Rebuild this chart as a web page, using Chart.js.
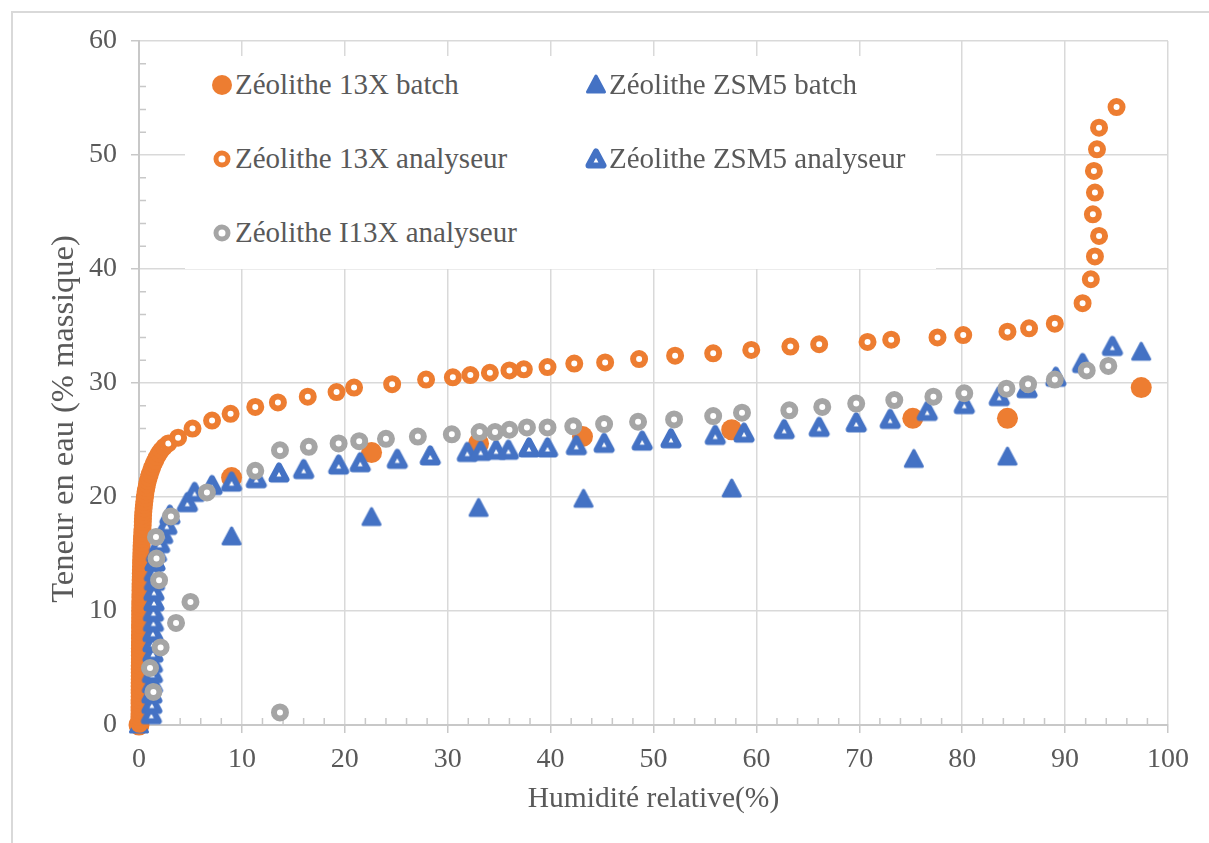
<!DOCTYPE html>
<html>
<head>
<meta charset="utf-8">
<script src="https://cdn.jsdelivr.net/npm/chart.js@4.4.0/dist/chart.umd.min.js"></script>
<style>
  body { margin: 0; background: #fff; overflow: hidden; }
  #wrap { position: absolute; left: 0; top: 0; width: 1209px; height: 843px; }
  #frame { position: absolute; left: 11px; top: 11px; width: 1230px; height: 860px;
           border: 2px solid #d9d9d9; box-sizing: border-box; }
  #legend { position: absolute; left: 185px; top: 56px; width: 751px; height: 213px; background: #fff; }
  .item { position: absolute; font-family: 'Liberation Serif', 'Times New Roman', serif;
          font-size: 29px; color: #595959; white-space: nowrap; line-height: 34px; height: 34px; }
  .mk { position: absolute; }
  #ytitle { position: absolute; left: 62px; top: 419px; width: 500px; margin-left: -250px; height: 38px; margin-top: -19px;
            transform: rotate(-90deg); text-align: center; line-height: 38px; white-space: nowrap;
            font-family: 'Liberation Serif', 'Times New Roman', serif; font-size: 32.5px; color: #595959; }
</style>
</head>
<body>
<div id="frame"></div>
<div id="wrap"><canvas id="chart"></canvas></div>
<div id="legend"></div>
<div id="ytitle">Teneur en eau (% massique)</div>
<script>
// Zéolithe 13X batch
const batch13X_x = [0, 9.0, 22.6, 33.0, 43.1, 57.6, 75.2, 84.4, 97.4];
const batch13X_y = [0, 21.7, 23.9, 24.7, 25.3, 25.9, 26.9, 26.9, 29.6];

// Zéolithe ZSM5 batch
const batchZSM5_x = [0, 9.0, 22.6, 33.0, 43.2, 57.6, 75.3, 84.4, 97.4];
const batchZSM5_y = [0, 16.5, 18.2, 19.0, 19.8, 20.7, 23.3, 23.5, 32.7];

// Zéolithe 13X analyseur (dense start near x = 0, then the isotherm)
const an13X_x = [
  0.04, 0.04, 0.04, 0.05, 0.05, 0.05, 0.05, 0.05, 0.06, 0.06, 0.06, 0.06, 0.06, 0.07, 0.07, 0.07, 0.07, 0.07, 0.08, 0.08,
  0.08, 0.08, 0.08, 0.09, 0.09, 0.09, 0.09, 0.10, 0.10, 0.10, 0.11, 0.11, 0.11, 0.12, 0.12, 0.12, 0.13, 0.13, 0.14, 0.14,
  0.15, 0.15, 0.16, 0.17, 0.17, 0.18, 0.19, 0.20, 0.21, 0.22, 0.23, 0.24, 0.25, 0.27, 0.28, 0.30, 0.32, 0.34, 0.36, 0.37,
  0.38, 0.40, 0.42, 0.45, 0.48, 0.52, 0.56, 0.60, 0.65, 0.71, 0.78, 0.86, 0.95, 1.05, 1.16, 1.28, 1.42, 1.57, 1.74, 1.93,
  2.15, 2.45, 2.85,
  3.8, 5.2, 7.1, 8.9, 11.3, 13.5, 16.4, 19.2, 20.9, 24.6, 27.9, 30.5, 32.2, 34.1, 36.0, 37.4, 39.7,
  42.3, 45.3, 48.6, 52.1, 55.8, 59.5, 63.3, 66.1, 70.8, 73.1, 77.6, 80.1, 84.4, 86.5, 89.0,
  91.7, 92.5, 92.9, 93.3, 92.7, 92.9, 92.8, 93.1, 93.3, 95.0];
const an13X_y = [
  0.1, 0.4, 0.7, 1.0, 1.3, 1.6, 1.9, 2.2, 2.5, 2.8, 3.1, 3.4, 3.7, 4.0, 4.3, 4.6, 4.9, 5.2, 5.5, 5.8,
  6.1, 6.4, 6.7, 7.0, 7.3, 7.6, 7.9, 8.2, 8.5, 8.8, 9.1, 9.4, 9.7, 10.0, 10.3, 10.6, 10.9, 11.2, 11.5, 11.8,
  12.1, 12.4, 12.7, 13.0, 13.3, 13.6, 13.9, 14.2, 14.5, 14.8, 15.1, 15.4, 15.7, 16.0, 16.3, 16.6, 16.9, 17.2, 17.5, 17.8,
  18.1, 18.4, 18.7, 19.0, 19.3, 19.6, 19.9, 20.2, 20.5, 20.8, 21.1, 21.4, 21.7, 22.0, 22.3, 22.6, 22.9, 23.2, 23.5, 23.8,
  24.1, 24.4, 24.7,
  25.2, 26.0, 26.7, 27.3, 27.9, 28.3, 28.8, 29.2, 29.6, 29.9, 30.3, 30.5, 30.7, 30.9, 31.1, 31.2, 31.4,
  31.7, 31.8, 32.1, 32.4, 32.6, 32.9, 33.2, 33.4, 33.6, 33.8, 34.0, 34.2, 34.5, 34.8, 35.2,
  37.0, 39.1, 41.1, 42.9, 44.8, 46.7, 48.6, 50.5, 52.4, 54.2];

// Zéolithe ZSM5 analyseur
const anZSM5_x = [1.2, 1.25, 1.25, 1.3, 1.3, 1.3, 1.35, 1.35, 1.35, 1.4, 1.4, 1.45, 1.45, 1.5, 1.5,
  1.55, 1.7, 2.0, 2.3, 2.7, 3.0, 4.7, 5.4, 7.1, 9.0, 11.4, 13.6, 16.0, 19.4, 21.5, 25.1, 28.3,
  31.9, 33.2, 34.7, 35.9, 37.9, 39.7, 42.5, 45.2, 48.9, 51.7, 56.0, 58.8, 62.7, 66.1, 69.7,
  73.0, 76.6, 80.2, 83.6, 86.3, 89.1, 91.7, 94.6];
const anZSM5_y = [0.9, 1.8, 2.7, 3.6, 4.5, 5.4, 6.3, 7.2, 8.1, 9.0, 9.9, 10.8, 11.7, 12.6, 13.4,
  14.3, 15.1, 15.9, 16.7, 17.5, 18.4, 19.5, 20.4, 21.0, 21.3, 21.6, 22.1, 22.4, 22.8, 23.0, 23.3, 23.6,
  23.9, 24.0, 24.1, 24.1, 24.3, 24.3, 24.5, 24.7, 24.9, 25.1, 25.4, 25.6, 25.9, 26.1, 26.5,
  26.8, 27.5, 28.1, 28.8, 29.5, 30.5, 31.7, 33.2];

// Zéolithe I13X analyseur
const anI13X_x = [13.7, 1.4, 1.07, 2.1, 3.6, 5.0, 1.95, 1.7, 1.65, 3.1, 6.6, 11.3, 13.7, 16.5, 19.4,
  21.4, 24.0, 27.1, 30.4, 33.1, 34.6, 36.0, 37.7, 39.7, 42.2, 45.2, 48.5, 52.0, 55.8, 58.6, 63.2,
  66.4, 69.7, 73.4, 77.2, 80.2, 84.3, 86.4, 89.0, 92.1, 94.2];
const anI13X_y = [1.1, 2.9, 5.0, 6.8, 8.95, 10.8, 12.7, 14.6, 16.5, 18.3, 20.4, 22.3, 24.1, 24.4, 24.7,
  24.9, 25.1, 25.3, 25.5, 25.7, 25.7, 25.9, 26.1, 26.1, 26.2, 26.4, 26.6, 26.8, 27.1, 27.4, 27.6,
  27.9, 28.2, 28.5, 28.8, 29.1, 29.5, 29.9, 30.3, 31.1, 31.5];

const xTicks = [0, 10, 20, 30, 40, 50, 60, 70, 80, 90, 100];
const yTicks = [0, 10, 20, 30, 40, 50, 60];

const ORANGE = '#ed7d31', BLUE = '#4472c4', GRAY = '#a5a5a5', TEXT = '#595959';
const FONT = "'Liberation Serif', 'Times New Roman', serif";

function pts(xs, ys) { return xs.map((x, i) => ({ x: x, y: ys[i] })); }

function triangleMarker(color, hollow) {
  const c = document.createElement('canvas');
  c.width = 28; c.height = 28;
  const g = c.getContext('2d');
  g.lineJoin = 'round';
  g.beginPath();
  if (hollow) { g.moveTo(14, 6.5); g.lineTo(21.5, 20.5); g.lineTo(6.5, 20.5); }
  else { g.moveTo(14, 5); g.lineTo(22.5, 21); g.lineTo(5.5, 21); }
  g.closePath();
  g.fillStyle = hollow ? '#fff' : color;
  g.fill();
  g.strokeStyle = color;
  g.lineWidth = hollow ? 6 : 3;
  g.stroke();
  return c;
}

function circleMarker(color, hollow, r) {
  const c = document.createElement('canvas');
  c.width = 26; c.height = 26;
  const g = c.getContext('2d');
  g.beginPath();
  if (hollow) {
    g.arc(13, 13, r - 2.5, 0, Math.PI * 2);
    g.fillStyle = '#fff'; g.fill();
    g.strokeStyle = color; g.lineWidth = 5; g.stroke();
  } else {
    g.arc(13, 13, r, 0, Math.PI * 2);
    g.fillStyle = color; g.fill();
  }
  return c;
}

// legend (white box over the grid, two columns)
const legendItems = [
  { text: 'Zéolithe 13X batch', mk: circleMarker(ORANGE, false, 10), left: 0, top: 0 },
  { text: 'Zéolithe ZSM5 batch', mk: triangleMarker(BLUE, false), left: 374, top: 0 },
  { text: 'Zéolithe 13X analyseur', mk: circleMarker(ORANGE, true, 8.5), left: 0, top: 74 },
  { text: 'Zéolithe ZSM5 analyseur', mk: triangleMarker(BLUE, true), left: 374, top: 74 },
  { text: 'Zéolithe I13X analyseur', mk: circleMarker(GRAY, true, 8.5), left: 0, top: 148 }
];
const legendBox = document.getElementById('legend');
legendItems.forEach(it => {
  it.mk.className = 'mk';
  it.mk.style.left = (37 - it.mk.width / 2 + it.left) + 'px';
  it.mk.style.top = (29 - it.mk.height / 2 + it.top) + 'px';
  legendBox.appendChild(it.mk);
  const s = document.createElement('div');
  s.className = 'item';
  s.textContent = it.text;
  s.style.left = (50 + it.left) + 'px';
  s.style.top = (11 + it.top) + 'px';
  legendBox.appendChild(s);
});

const minorTicks = {
  id: 'minorTicks',
  beforeDatasetsDraw(chart) {
    const { ctx, scales: { x, y } } = chart;
    ctx.save();
    ctx.strokeStyle = '#c8c8c8';
    ctx.lineWidth = 1.5;
    ctx.beginPath();
    for (let v = 2; v < 100; v += 2) {
      if (v % 10 === 0) continue;
      const px = x.getPixelForValue(v);
      ctx.moveTo(px, y.bottom); ctx.lineTo(px, y.bottom - 7);
    }
    for (let v = 2; v < 60; v += 2) {
      if (v % 10 === 0) continue;
      const py = y.getPixelForValue(v);
      ctx.moveTo(x.left, py); ctx.lineTo(x.left + 7, py);
    }
    ctx.stroke();
    ctx.restore();
  }
};

const ctx = document.getElementById('chart');

new Chart(ctx, {
  type: 'scatter',
  data: {
    datasets: [{
      label: 'Zéolithe 13X batch',
      data: pts(batch13X_x, batch13X_y),
      pointStyle: 'circle',
      pointRadius: 10.5,
      pointBorderWidth: 0,
      pointBackgroundColor: ORANGE,
      clip: false,
      order: 5
    }, {
      label: 'Zéolithe ZSM5 batch',
      data: pts(batchZSM5_x, batchZSM5_y),
      pointStyle: triangleMarker(BLUE, false),
      pointRadius: 9,
      clip: false,
      order: 4
    }, {
      label: 'Zéolithe 13X analyseur',
      data: pts(an13X_x, an13X_y),
      pointStyle: 'circle',
      pointRadius: 6,
      pointBorderWidth: 6,
      pointBorderColor: ORANGE,
      pointBackgroundColor: '#fff',
      clip: false,
      order: 3
    }, {
      label: 'Zéolithe ZSM5 analyseur',
      data: pts(anZSM5_x, anZSM5_y),
      pointStyle: triangleMarker(BLUE, true),
      pointRadius: 9,
      clip: false,
      order: 2
    }, {
      label: 'Zéolithe I13X analyseur',
      data: pts(anI13X_x, anI13X_y),
      pointStyle: 'circle',
      pointRadius: 6,
      pointBorderWidth: 6,
      pointBorderColor: GRAY,
      pointBackgroundColor: '#fff',
      clip: false,
      order: 1
    }]
  },
  options: {
    responsive: true,
    maintainAspectRatio: false,
    animation: false,
    layout: { padding: { left: 0, top: 41, right: 41, bottom: 0 } },
    plugins: {
      legend: { display: false },
      tooltip: { enabled: false }
    },
    scales: {
      x: {
        type: 'linear',
        min: 0,
        max: 100,
        afterBuildTicks: s => { s.ticks = xTicks.map(v => ({ value: v })); },
        afterFit: s => { s.height = 118; },
        ticks: { color: TEXT, font: { family: FONT, size: 28 }, padding: 10 },
        grid: { color: '#d9d9d9', lineWidth: 1.5, tickLength: 8, tickColor: '#c8c8c8', tickWidth: 1.5 },
        border: { color: '#c8c8c8', width: 2 },
        title: {
          display: true,
          text: 'Humidité relative(%)',
          color: TEXT,
          font: { family: FONT, size: 29.5 },
          padding: { top: 0, bottom: 26 }
        }
      },
      y: {
        type: 'linear',
        min: 0,
        max: 60,
        afterBuildTicks: s => { s.ticks = yTicks.map(v => ({ value: v })); },
        afterFit: s => { s.width = 139; },
        ticks: { color: TEXT, font: { family: FONT, size: 28 }, padding: 14 },
        grid: { color: '#d9d9d9', lineWidth: 1.5, tickLength: 8, tickColor: '#c8c8c8', tickWidth: 1.5 },
        border: { color: '#c8c8c8', width: 2 },
        title: { display: false }
      }
    }
  },
  plugins: [minorTicks]
});
</script>
</body>
</html>
